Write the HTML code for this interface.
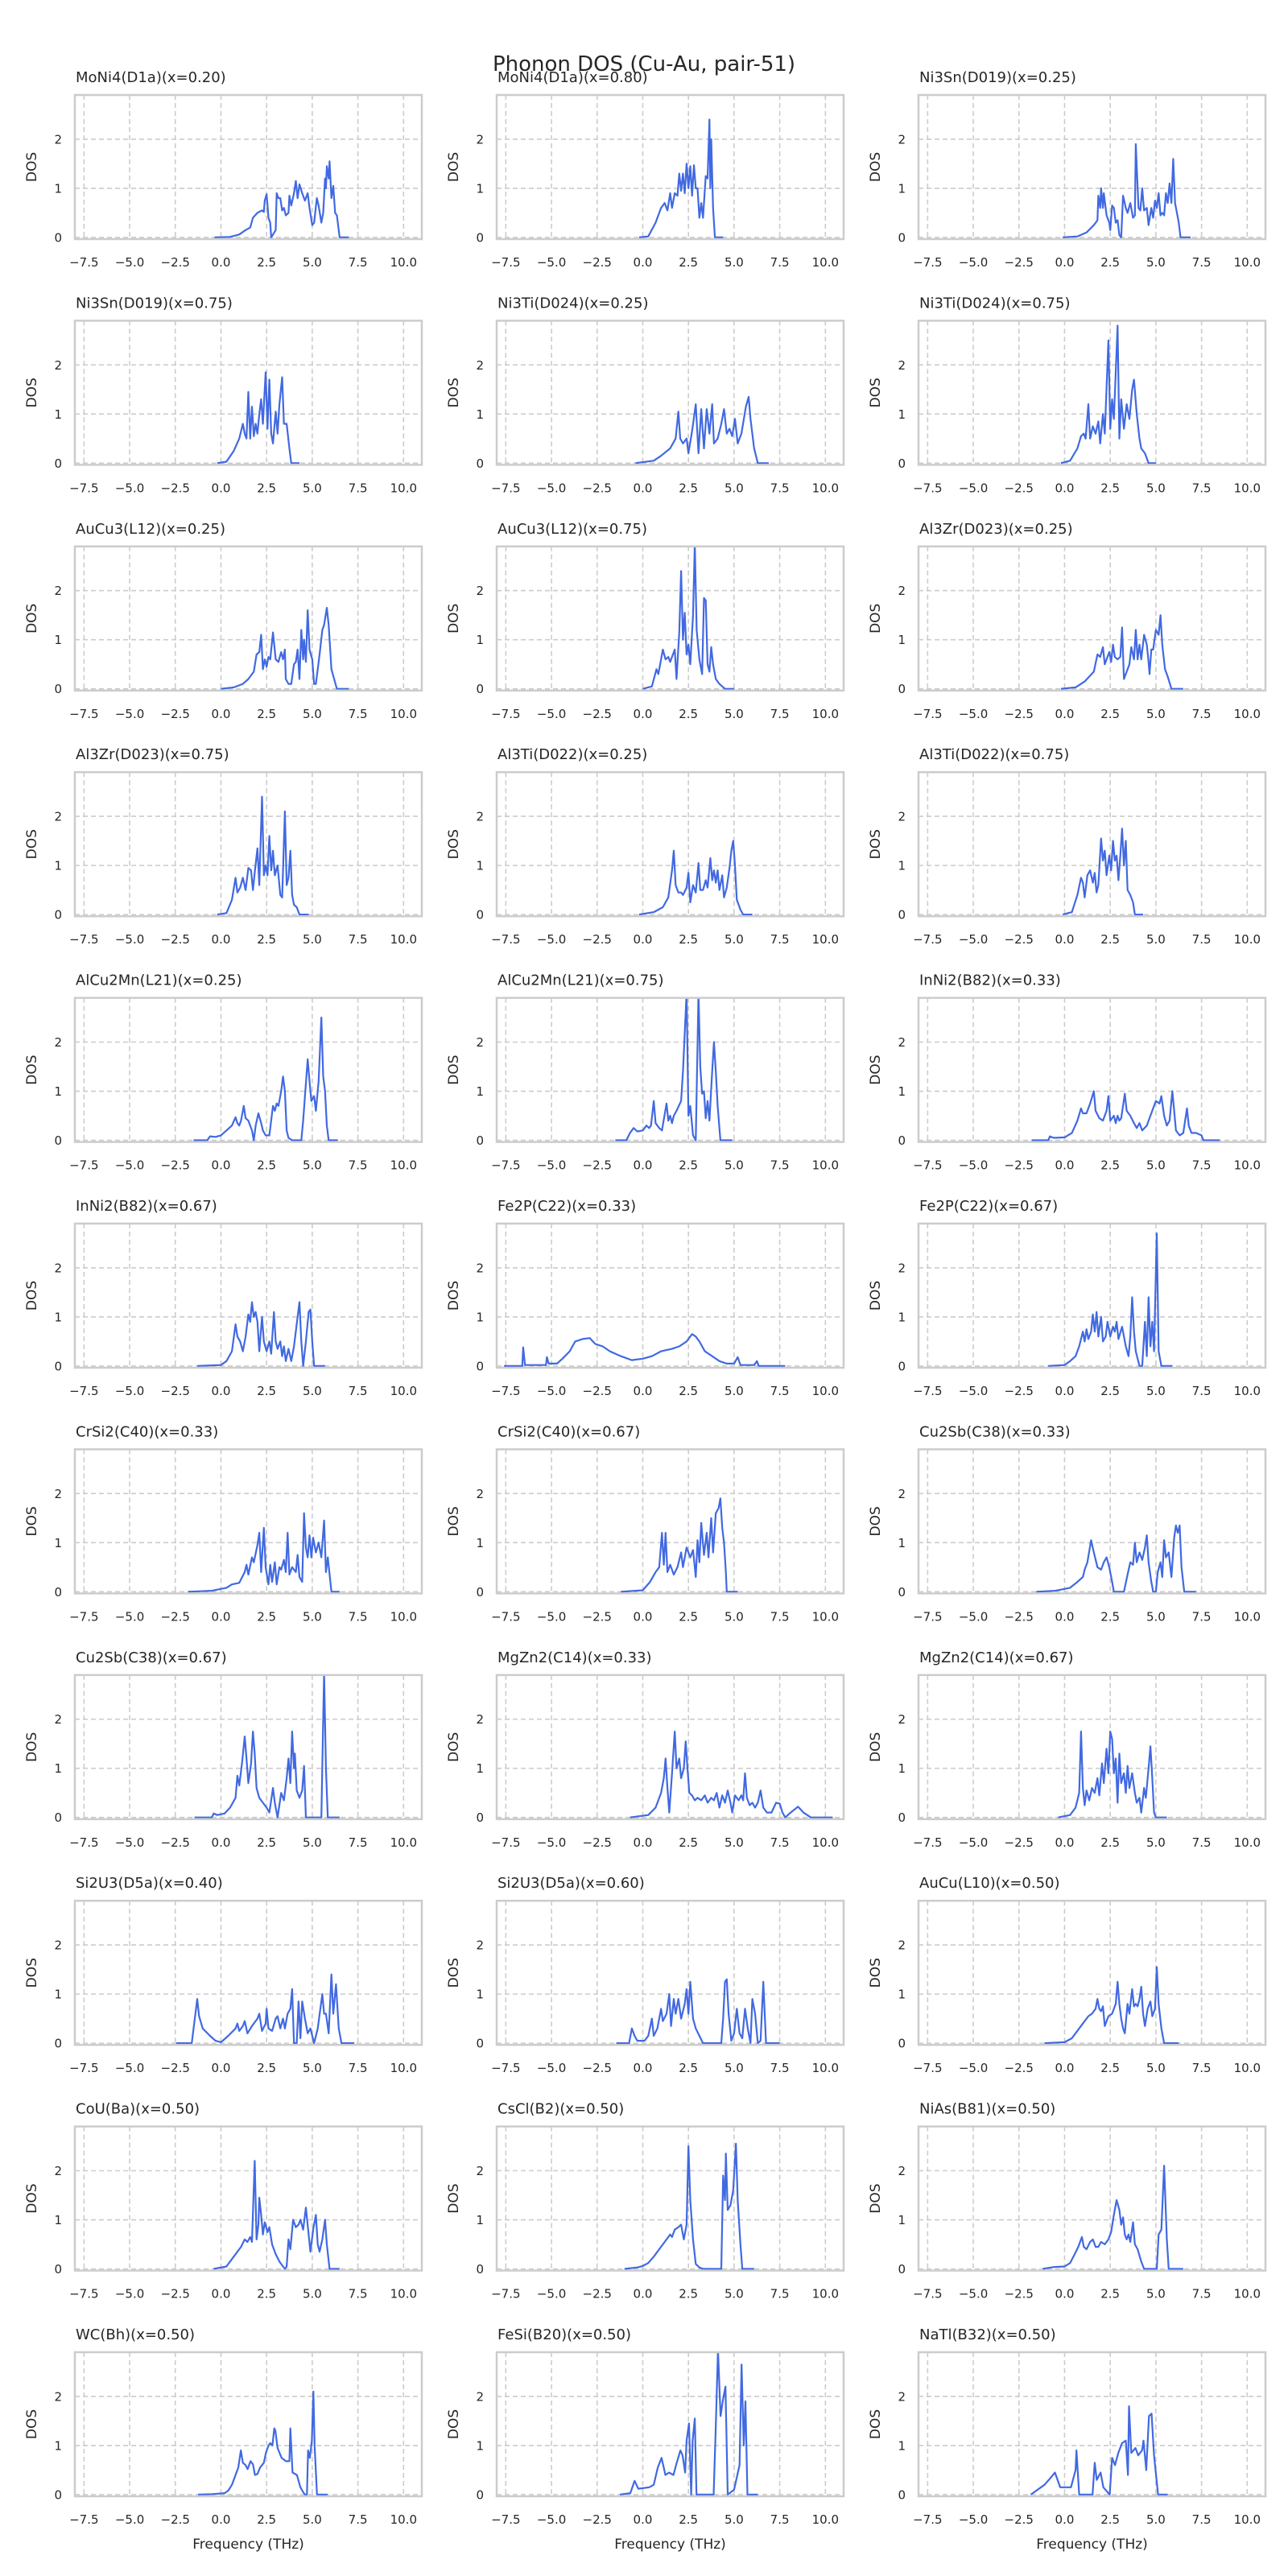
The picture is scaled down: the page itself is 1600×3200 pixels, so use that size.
<!DOCTYPE html>
<html><head><meta charset="utf-8"><style>
html,body{margin:0;padding:0;background:#fff;}
svg{display:block;font-family:"DejaVu Sans","Liberation Sans",sans-serif;}
</style></head><body>
<svg id="fig" width="1600" height="3200" viewBox="0 0 1600 3200" xmlns="http://www.w3.org/2000/svg">
<rect x="0" y="0" width="1600" height="3200" fill="#fff"/>
<text x="800" y="88" text-anchor="middle" font-size="26" fill="#262626">Phonon DOS (Cu-Au, pair-51)</text>
</svg>
<script>
const panelTitles = ["MoNi4(D1a)(x=0.20)","MoNi4(D1a)(x=0.80)","Ni3Sn(D019)(x=0.25)","Ni3Sn(D019)(x=0.75)","Ni3Ti(D024)(x=0.25)","Ni3Ti(D024)(x=0.75)","AuCu3(L12)(x=0.25)","AuCu3(L12)(x=0.75)","Al3Zr(D023)(x=0.25)","Al3Zr(D023)(x=0.75)","Al3Ti(D022)(x=0.25)","Al3Ti(D022)(x=0.75)","AlCu2Mn(L21)(x=0.25)","AlCu2Mn(L21)(x=0.75)","InNi2(B82)(x=0.33)","InNi2(B82)(x=0.67)","Fe2P(C22)(x=0.33)","Fe2P(C22)(x=0.67)","CrSi2(C40)(x=0.33)","CrSi2(C40)(x=0.67)","Cu2Sb(C38)(x=0.33)","Cu2Sb(C38)(x=0.67)","MgZn2(C14)(x=0.33)","MgZn2(C14)(x=0.67)","Si2U3(D5a)(x=0.40)","Si2U3(D5a)(x=0.60)","AuCu(L10)(x=0.50)","CoU(Ba)(x=0.50)","CsCl(B2)(x=0.50)","NiAs(B81)(x=0.50)","WC(Bh)(x=0.50)","FeSi(B20)(x=0.50)","NaTl(B32)(x=0.50)"];
const xTicks = [-7.5,-5,-2.5,0,2.5,5,7.5,10];
const xTickLabels = ["\u22127.5","\u22125.0","\u22122.5","0.0","2.5","5.0","7.5","10.0"];
const yTicks = [0,1,2];
const yTickLabels = ["0","1","2"];
const xDomain = [-8, 11];
const yDomain = [-0.034, 2.9];
// interleaved [frequency, DOS, frequency, DOS, ...] per panel
const dosSeries = [
[-0.35,0,0.5,0.01,1.0,0.06,1.35,0.15,1.6,0.2,1.75,0.4,2.0,0.5,2.25,0.55,2.35,0.52,2.4,0.75,2.5,0.88,2.6,0.4,2.7,0.3,2.75,0,3.0,0.15,3.05,0.9,3.15,0.8,3.25,0.8,3.35,0.55,3.45,0.6,3.55,0.45,3.7,0.5,3.75,0.85,3.85,0.65,4.0,0.9,4.1,1.15,4.2,0.8,4.3,1.08,4.45,0.9,4.6,0.75,4.75,0.9,4.85,0.6,5.0,0.25,5.1,0.3,5.25,0.8,5.35,0.65,5.5,0.3,5.6,0.5,5.7,1.2,5.75,1.0,5.8,1.45,5.9,1.2,5.95,1.55,6.05,0.8,6.15,1.05,6.25,0.5,6.35,0.45,6.5,0,7.0,0],
[-0.2,0,0.3,0.02,0.7,0.3,1.0,0.6,1.2,0.7,1.35,0.55,1.5,0.9,1.6,0.6,1.75,0.9,1.9,0.85,2.0,1.3,2.1,0.95,2.2,1.3,2.3,0.9,2.4,1.5,2.5,1.0,2.6,1.45,2.7,0.85,2.8,1.47,2.9,1.0,3.0,1.0,3.1,0.4,3.2,0.7,3.3,0.4,3.45,1.25,3.55,1.2,3.65,2.4,3.7,1.0,3.75,2.0,3.85,0.6,3.95,0,4.4,0],
[-0.1,0,0.7,0.02,1.2,0.1,1.6,0.25,1.8,0.35,1.85,0.85,1.95,0.6,2.0,1.0,2.1,0.6,2.15,0.9,2.3,0.45,2.45,0.3,2.5,0.15,2.6,0.65,2.7,0.6,2.8,0.3,2.9,0.35,3.0,0.05,3.1,0,3.2,0.85,3.35,0.6,3.45,0.5,3.6,0.7,3.75,0.4,3.85,0.45,3.9,1.9,4.05,0.6,4.15,0.55,4.25,1.0,4.35,0.55,4.5,0.6,4.6,0.25,4.75,0.6,4.85,0.4,4.95,0.75,5.05,0.6,5.15,0.9,5.25,0.45,5.35,0.5,5.45,0.45,5.55,0.9,5.65,0.7,5.75,1.1,5.85,0.7,5.95,1.6,6.05,0.7,6.25,0.3,6.35,0,6.9,0],
[-0.2,0,0.3,0.03,0.7,0.25,1.0,0.5,1.2,0.8,1.3,0.6,1.4,0.5,1.5,1.45,1.6,0.5,1.7,1.15,1.8,0.55,1.9,0.8,2.0,0.6,2.1,1.0,2.2,1.3,2.3,0.8,2.45,1.85,2.55,0.7,2.65,1.7,2.75,0.6,2.85,0.4,3.0,1.05,3.1,0.6,3.2,1.2,3.35,1.75,3.45,0.8,3.6,0.8,3.75,0.3,3.85,0,4.3,0],
[-0.4,0,0.6,0.05,1.0,0.15,1.5,0.3,1.8,0.5,1.95,1.05,2.05,0.5,2.2,0.4,2.4,0.5,2.5,0.2,2.7,0.65,2.9,1.2,3.05,0.2,3.2,1.1,3.35,0.3,3.5,1.1,3.65,0.6,3.8,1.2,3.9,0.4,4.1,0.5,4.3,0.8,4.45,1.1,4.6,0.6,4.75,0.7,4.9,0.55,5.05,0.9,5.2,0.4,5.4,0.6,5.65,1.15,5.8,1.35,5.9,0.9,6.1,0.3,6.3,0,6.9,0],
[-0.2,0,0.3,0.05,0.7,0.3,0.9,0.55,1.05,0.6,1.15,0.5,1.3,1.2,1.4,0.5,1.55,0.75,1.7,0.6,1.85,0.85,1.95,0.4,2.1,1.0,2.2,0.6,2.4,2.5,2.5,0.7,2.6,1.3,2.7,0.9,2.9,2.8,3.0,0.5,3.1,1.3,3.25,0.7,3.4,1.2,3.55,0.9,3.7,1.5,3.8,1.7,3.95,1.0,4.1,0.5,4.2,0.3,4.4,0.2,4.6,0,5.0,0],
[0,0,0.7,0.03,1.2,0.1,1.5,0.2,1.8,0.35,1.95,0.7,2.1,0.75,2.2,1.1,2.3,0.4,2.4,0.6,2.5,0.45,2.6,0.65,2.7,0.6,2.85,1.15,3.0,0.6,3.15,0.55,3.3,0.75,3.4,0.6,3.5,0.8,3.55,0.2,3.7,0.1,3.85,0.1,4.0,0.5,4.1,0.55,4.2,0.8,4.3,0.2,4.4,1.2,4.5,0.6,4.55,1.0,4.65,0.55,4.75,1.6,4.85,0.8,5.0,0.6,5.1,0.1,5.2,0.1,5.4,0.7,5.55,1.2,5.65,1.3,5.8,1.65,5.9,1.3,6.05,0.4,6.2,0.2,6.35,0,7.0,0],
[0,0,0.5,0.05,0.75,0.4,0.85,0.3,1.0,0.6,1.1,0.8,1.25,0.6,1.4,0.65,1.5,0.55,1.6,0.65,1.75,0.8,1.85,0.2,2.0,1.15,2.1,2.4,2.2,1.0,2.3,1.55,2.4,0.7,2.5,0.9,2.6,0.5,2.75,1.5,2.85,2.95,2.95,1.2,3.1,0.6,3.25,0.3,3.35,1.85,3.45,1.8,3.55,0.5,3.65,0.35,3.75,0.85,3.85,0.5,4.0,0.2,4.2,0.1,4.5,0,5.0,0],
[-0.2,0,0.6,0.03,1.1,0.15,1.6,0.35,1.8,0.7,1.95,0.65,2.1,0.85,2.2,0.5,2.3,0.6,2.45,0.75,2.55,0.55,2.65,0.9,2.75,0.65,2.9,0.6,3.05,0.65,3.15,1.25,3.25,0.2,3.4,0.35,3.55,0.5,3.65,0.85,3.8,0.6,3.9,1.2,4.0,0.6,4.1,0.9,4.2,0.6,4.35,1.1,4.5,0.9,4.6,0.55,4.65,0.3,4.75,0.8,4.85,0.8,5.0,1.2,5.15,1.1,5.25,1.5,5.35,0.9,5.5,0.4,5.65,0.25,5.85,0,6.5,0],
[-0.2,0,0.3,0.03,0.6,0.3,0.8,0.75,0.9,0.45,1.05,0.55,1.2,0.75,1.35,0.5,1.5,0.95,1.65,0.9,1.75,0.5,1.85,0.85,2.0,1.35,2.1,0.6,2.25,2.4,2.35,0.8,2.45,1.0,2.55,0.8,2.65,1.6,2.75,0.9,2.85,1.3,2.95,0.8,3.1,1.0,3.25,0.4,3.35,0.35,3.5,2.1,3.6,0.6,3.7,0.75,3.8,1.3,3.9,0.4,4.0,0.2,4.15,0.15,4.3,0,4.8,0],
[-0.2,0,0.6,0.05,1.1,0.15,1.4,0.35,1.6,0.9,1.7,1.3,1.8,0.6,1.95,0.45,2.1,0.45,2.2,0.4,2.4,0.55,2.5,0.85,2.6,0.25,2.75,0.6,2.9,0.45,3.05,1.05,3.15,0.5,3.3,0.5,3.45,0.7,3.55,0.55,3.7,1.15,3.8,0.7,3.9,0.9,4.0,0.65,4.1,0.9,4.2,0.5,4.35,0.8,4.45,0.35,4.6,0.55,4.75,0.95,4.85,1.3,4.95,1.5,5.05,1.0,5.15,0.3,5.35,0.1,5.5,0,6.0,0],
[-0.1,0,0.4,0.05,0.7,0.4,0.9,0.75,1.0,0.65,1.1,0.35,1.25,0.8,1.4,0.9,1.55,0.65,1.65,0.85,1.75,0.45,1.85,0.6,2.0,1.55,2.1,1.1,2.2,1.3,2.3,0.8,2.45,1.2,2.55,0.9,2.65,1.5,2.75,1.1,2.85,1.2,2.95,0.7,3.05,1.2,3.15,1.75,3.25,1.0,3.35,1.5,3.45,0.5,3.6,0.4,3.75,0.25,3.85,0,4.3,0],
[-1.5,0,-0.75,0,-0.6,0.08,-0.3,0.07,0,0.1,0.3,0.2,0.6,0.3,0.8,0.47,0.9,0.35,1.0,0.3,1.1,0.4,1.25,0.7,1.35,0.45,1.5,0.4,1.7,0.2,1.8,0,1.9,0.3,2.05,0.55,2.2,0.35,2.3,0.2,2.45,0.1,2.65,0.1,2.85,0.7,2.95,0.6,3.05,0.75,3.15,0.7,3.3,1.0,3.4,1.3,3.5,1.0,3.6,0.2,3.7,0.05,3.9,0,4.4,0,4.5,0.4,4.75,1.65,4.85,1.2,4.95,0.8,5.1,0.9,5.2,0.6,5.35,1.2,5.5,2.5,5.6,1.3,5.7,1.0,5.8,0.3,5.9,0,6.4,0],
[-1.5,0,-0.9,0,-0.7,0.15,-0.5,0.25,-0.3,0.18,0,0.2,0.2,0.3,0.35,0.25,0.45,0.3,0.6,0.8,0.7,0.35,0.9,0.25,1.05,0.2,1.3,0.75,1.4,0.4,1.5,0.5,1.6,0.35,1.7,0.5,1.85,0.6,2.1,0.8,2.2,1.4,2.4,3.0,2.5,0.5,2.6,0.7,2.75,0.1,2.9,0,3.05,3.0,3.15,1.5,3.25,0.95,3.35,1.0,3.45,0.45,3.55,0.8,3.65,0.4,3.8,1.4,3.9,2.0,4.0,1.4,4.1,0.7,4.25,0,4.9,0],
[-1.8,0,-0.9,0,-0.8,0.08,-0.6,0.05,0,0.06,0.4,0.15,0.7,0.4,0.9,0.65,1.0,0.55,1.2,0.55,1.4,0.75,1.6,1.0,1.7,0.6,1.9,0.45,2.1,0.4,2.3,0.6,2.4,0.9,2.5,0.4,2.7,0.5,2.8,0.35,2.9,0.5,3.0,0.4,3.1,0.45,3.3,0.95,3.4,0.6,3.6,0.5,3.8,0.35,3.95,0.25,4.1,0.35,4.25,0.2,4.5,0.3,4.7,0.5,4.9,0.7,5.0,0.8,5.2,0.75,5.3,0.9,5.45,0.5,5.6,0.3,5.75,0.4,5.9,1.0,6.0,0.6,6.1,0.2,6.3,0.1,6.5,0.15,6.7,0.65,6.8,0.3,6.95,0.15,7.2,0.15,7.5,0.1,7.6,0,8.5,0],
[-1.3,0,0,0.02,0.3,0.1,0.6,0.3,0.8,0.85,0.9,0.6,1.05,0.5,1.2,0.3,1.35,0.6,1.5,1.05,1.6,0.9,1.7,1.3,1.8,1.0,1.9,1.1,2.0,0.9,2.1,0.3,2.25,1.0,2.35,0.5,2.5,0.3,2.65,0.5,2.75,0.25,2.9,1.1,3.0,0.5,3.1,0.35,3.25,0.5,3.35,0.2,3.45,0.4,3.55,0.1,3.7,0.35,3.85,0.1,4.0,0.4,4.2,1.0,4.3,1.3,4.4,0.5,4.5,0,4.65,0.5,4.8,1.1,4.9,1.15,5.0,0.5,5.1,0,5.7,0],
[-7.6,0,-6.6,0,-6.55,0.38,-6.45,0.02,-5.3,0.02,-5.25,0.18,-5.15,0.05,-4.7,0.05,-4.4,0.15,-4.0,0.3,-3.7,0.5,-3.3,0.55,-2.9,0.57,-2.6,0.45,-2.2,0.4,-1.8,0.3,-1.2,0.2,-0.6,0.12,0,0.15,0.5,0.2,1.0,0.3,1.6,0.35,2.0,0.4,2.4,0.5,2.7,0.65,2.9,0.6,3.1,0.5,3.4,0.3,3.8,0.2,4.2,0.1,4.6,0.05,5.0,0.05,5.2,0.18,5.35,0.02,6.1,0.02,6.25,0.1,6.35,0,7.8,0],
[-0.9,0,0,0.02,0.3,0.1,0.6,0.2,0.8,0.4,1.0,0.7,1.1,0.5,1.2,0.75,1.3,0.55,1.45,0.7,1.55,1.05,1.65,0.7,1.75,1.1,1.85,0.6,2.0,1.0,2.1,0.5,2.25,0.6,2.35,0.9,2.5,0.6,2.65,0.8,2.75,0.7,2.85,0.9,2.95,0.55,3.15,0.8,3.25,0.6,3.35,0.4,3.5,0.2,3.6,0.6,3.7,1.4,3.8,0.7,3.9,0.3,4.1,0,4.25,0,4.4,0.9,4.5,0.2,4.6,1.4,4.7,0.4,4.8,0.9,4.9,0.3,5.05,2.7,5.15,0.3,5.3,0,5.9,0],
[-1.8,0,-0.5,0.02,0.3,0.08,0.6,0.15,1.0,0.18,1.3,0.4,1.4,0.55,1.5,0.35,1.7,0.7,1.8,0.6,2.0,0.95,2.1,1.2,2.2,0.4,2.35,1.3,2.45,0.5,2.6,0.15,2.7,0.55,2.8,0.2,2.95,0.6,3.05,0.15,3.2,0.5,3.3,0.45,3.45,0.65,3.55,0.4,3.65,1.2,3.75,0.35,3.9,0.5,4.1,0.4,4.2,0.75,4.3,0.3,4.45,0.2,4.55,1.6,4.65,0.9,4.75,0.7,4.85,1.15,4.95,0.7,5.05,1.1,5.2,0.8,5.35,1.0,5.5,0.7,5.65,1.45,5.75,0.4,5.85,0.7,6.05,0,6.5,0],
[-1.2,0,0,0.03,0.4,0.2,0.7,0.4,0.9,0.5,1.05,1.2,1.15,0.55,1.25,1.2,1.35,0.4,1.5,0.55,1.7,0.35,1.9,0.5,2.1,0.8,2.2,0.5,2.4,0.9,2.6,0.7,2.75,0.85,2.9,0.3,3.0,1.05,3.1,0.6,3.2,1.4,3.35,0.75,3.5,1.2,3.6,0.7,3.75,1.5,3.85,0.8,4.0,1.6,4.15,1.7,4.25,1.9,4.35,1.3,4.45,1.0,4.55,0.4,4.6,0,5.2,0],
[-1.55,0,-0.5,0.02,0.3,0.08,0.7,0.2,1.0,0.3,1.1,0.45,1.25,0.6,1.45,1.05,1.6,0.8,1.8,0.5,2.0,0.45,2.15,0.6,2.3,0.7,2.45,0.5,2.6,0.2,2.7,0,3.25,0,3.45,0.35,3.6,0.6,3.75,0.55,3.85,1.0,3.95,0.6,4.1,0.8,4.25,0.65,4.4,0.9,4.5,1.15,4.6,0.6,4.75,0.2,4.85,0,5.0,0,5.1,0.4,5.25,0.6,5.35,0.3,5.45,1.05,5.55,0.7,5.7,0.8,5.85,0.3,6.0,1.1,6.1,1.35,6.2,1.2,6.3,1.35,6.4,0.5,6.55,0,7.2,0],
[-1.45,0,-0.5,0,-0.4,0.08,-0.2,0.05,0.2,0.08,0.5,0.2,0.8,0.4,0.9,0.85,1.0,0.65,1.15,1.1,1.3,1.65,1.4,1.2,1.5,0.7,1.65,1.1,1.75,1.75,1.85,1.3,1.95,0.6,2.1,0.4,2.3,0.3,2.5,0.2,2.65,0.1,2.85,0.6,2.95,0.3,3.1,0,3.3,0.5,3.45,0.35,3.6,0.8,3.7,1.2,3.8,0.7,3.9,1.75,4.0,1.0,4.05,1.3,4.15,0.55,4.3,0.4,4.45,0.55,4.55,1.05,4.65,0,5.5,0,5.65,2.95,5.75,1.0,5.85,0,6.5,0],
[-0.7,0,0.3,0.05,0.7,0.2,1.0,0.5,1.15,0.8,1.25,1.2,1.35,0.6,1.45,0.1,1.6,0.9,1.75,1.75,1.85,1.0,2.0,1.2,2.1,0.8,2.25,1.0,2.35,1.55,2.45,1.0,2.55,0.5,2.7,0.45,2.85,0.35,3.0,0.4,3.2,0.35,3.4,0.45,3.55,0.3,3.75,0.4,3.9,0.35,4.05,0.5,4.2,0.2,4.35,0.45,4.5,0.3,4.65,0.55,4.8,0.3,4.9,0.1,5.05,0.45,5.25,0.35,5.4,0.45,5.5,0.35,5.6,0.9,5.7,0.4,5.85,0.25,6.0,0.3,6.15,0.2,6.3,0.3,6.45,0.55,6.6,0.2,6.8,0.1,7.05,0.1,7.3,0.3,7.5,0.28,7.65,0.1,7.8,0,8.1,0.1,8.5,0.22,8.8,0.1,9.2,0,10.4,0],
[-0.35,0,0.3,0.05,0.6,0.2,0.8,0.5,0.9,1.75,1.0,0.6,1.1,0.25,1.2,0.55,1.35,0.35,1.5,0.6,1.65,0.5,1.8,0.8,1.9,0.45,2.05,1.1,2.15,0.7,2.3,1.4,2.4,0.9,2.5,1.75,2.6,1.6,2.7,0.9,2.8,1.2,2.9,0.3,3.0,1.3,3.1,0.7,3.25,0.9,3.35,0.5,3.45,1.05,3.55,0.6,3.7,0.9,3.85,0.5,3.95,0.3,4.1,0.4,4.2,0.1,4.35,0.6,4.45,0.4,4.6,1.0,4.7,1.45,4.8,0.8,4.9,0.1,5.0,0,5.6,0],
[-2.45,0,-1.6,0,-1.3,0.9,-1.2,0.55,-1.0,0.3,-0.6,0.15,-0.3,0.05,0,0.02,0.4,0.15,0.8,0.3,0.9,0.4,1.0,0.25,1.2,0.35,1.3,0.45,1.45,0.2,1.7,0.35,2.0,0.5,2.1,0.6,2.25,0.25,2.45,0.4,2.5,0.7,2.6,0.3,2.8,0.25,3.0,0.5,3.1,0.55,3.25,0.3,3.4,0.5,3.5,0.3,3.65,0.6,3.8,0.7,3.9,1.1,4.0,0,4.15,0,4.25,0.85,4.35,0.1,4.45,0.85,4.6,0.5,4.75,0.2,4.9,0.3,5.1,0,5.3,0.3,5.55,1.0,5.65,0.6,5.75,0.6,5.9,0.2,6.05,1.4,6.15,0.6,6.3,1.2,6.45,0.3,6.6,0,7.3,0],
[-1.45,0,-0.75,0,-0.6,0.3,-0.45,0.15,-0.3,0.05,0.1,0.05,0.3,0.15,0.5,0.5,0.6,0.15,0.8,0.3,1.0,0.7,1.1,0.45,1.3,0.6,1.45,1.0,1.55,0.35,1.7,0.9,1.8,0.6,1.95,0.9,2.1,0.5,2.3,0.8,2.4,1.1,2.5,0.6,2.6,1.25,2.75,0.5,2.9,0.3,3.1,0.15,3.3,0,4.3,0,4.4,0.5,4.5,1.25,4.6,1.3,4.7,0.6,4.85,0.05,5.0,0.2,5.15,0.7,5.3,0.2,5.45,0.1,5.6,0.7,5.75,0.3,5.9,0,6.0,0.9,6.15,0.6,6.3,0,6.45,0.05,6.6,1.25,6.75,0,7.5,0],
[-1.1,0,0,0.02,0.4,0.1,0.8,0.3,1.1,0.45,1.3,0.55,1.5,0.6,1.7,0.7,1.8,0.9,1.9,0.7,2.0,0.65,2.1,0.75,2.2,0.35,2.4,0.55,2.6,0.6,2.8,0.8,2.9,1.25,3.0,0.8,3.1,0.5,3.2,0.3,3.3,0.2,3.45,0.8,3.55,0.6,3.7,1.1,3.8,0.75,3.9,0.8,4.0,0.75,4.1,0.9,4.2,1.15,4.3,0.6,4.4,0.35,4.55,0.7,4.7,0.85,4.8,0.55,4.95,0.7,5.05,1.55,5.15,0.8,5.3,0.3,5.45,0,6.25,0],
[-0.4,0,0.3,0.05,0.6,0.2,0.9,0.35,1.1,0.45,1.3,0.6,1.45,0.55,1.6,0.65,1.7,0.55,1.85,2.2,1.95,0.6,2.05,0.9,2.1,1.45,2.2,1.1,2.3,0.7,2.4,0.95,2.55,0.75,2.65,0.85,2.8,0.5,3.0,0.3,3.2,0.15,3.4,0.05,3.5,0,3.6,0.05,3.7,0.6,3.8,0.4,3.95,1.0,4.1,0.85,4.25,0.9,4.35,1.0,4.5,0.8,4.65,1.25,4.8,0.7,4.9,0.35,5.05,0.8,5.2,1.1,5.3,0.5,5.4,0.35,5.55,0.6,5.7,1.0,5.8,0.5,5.95,0,6.5,0],
[-1.0,0,-0.3,0.03,0,0.06,0.3,0.12,0.6,0.25,0.9,0.4,1.2,0.55,1.5,0.7,1.6,0.65,1.75,0.8,1.95,0.85,2.1,0.9,2.25,0.6,2.4,0.9,2.5,2.5,2.6,1.4,2.75,0.6,2.9,0.1,3.1,0.03,3.3,0,4.3,0,4.4,1.9,4.5,1.4,4.55,2.35,4.65,1.2,4.8,1.3,4.95,1.6,5.1,2.55,5.2,1.4,5.35,0.5,5.45,0,6.1,0],
[-1.2,0,-0.55,0.04,0,0.05,0.3,0.12,0.55,0.3,0.75,0.45,0.95,0.65,1.05,0.45,1.2,0.4,1.4,0.55,1.55,0.6,1.7,0.45,1.85,0.45,2.0,0.55,2.2,0.5,2.4,0.6,2.55,0.75,2.7,1.1,2.85,1.4,3.0,1.2,3.1,0.9,3.2,1.05,3.3,0.7,3.4,0.6,3.5,0.7,3.6,0.55,3.75,0.95,3.85,0.5,4.0,0.4,4.2,0.15,4.35,0,5.05,0,5.15,0.7,5.3,0.8,5.45,2.1,5.6,0.6,5.7,0,6.5,0],
[-1.25,0,-0.5,0.01,0.2,0.03,0.4,0.08,0.6,0.2,0.8,0.4,0.95,0.55,1.09,0.9,1.2,0.65,1.35,0.6,1.46,0.52,1.62,0.68,1.75,0.62,1.86,0.4,2.0,0.42,2.14,0.55,2.35,0.65,2.46,0.85,2.6,1.0,2.7,1.05,2.82,1.0,2.92,1.35,2.98,1.3,3.1,0.95,3.32,0.75,3.56,0.68,3.75,0.68,3.8,1.35,3.92,0.45,4.16,0.4,4.35,0.15,4.5,0.05,4.6,0,4.71,0,4.77,0.9,4.87,0.75,4.98,1.1,5.06,2.1,5.13,1.0,5.26,0,5.84,0],
[-1.25,0,-0.68,0.03,-0.45,0.28,-0.24,0.12,0.35,0.15,0.6,0.2,0.82,0.55,1.03,0.75,1.24,0.4,1.44,0.45,1.68,0.4,1.82,0.6,2.06,0.9,2.18,0.8,2.32,0.45,2.4,1.1,2.53,1.45,2.65,0,2.73,1.1,2.85,1.55,2.94,0,3.88,0,4.0,1.4,4.12,2.95,4.26,1.6,4.38,1.9,4.53,2.2,4.65,0,5.0,0.1,5.3,0.6,5.41,2.65,5.53,1.0,5.62,1.9,5.73,0,6.3,0],
[-1.85,0,-1.1,0.2,-0.75,0.35,-0.53,0.45,-0.24,0.15,0.35,0.15,0.6,0.5,0.65,0.9,0.8,0,1.53,0,1.65,0.65,1.76,0.3,1.97,0.45,2.12,0.15,2.47,0,2.6,0.75,2.76,0.6,2.94,0.85,3.15,1.05,3.35,1.1,3.47,0.4,3.53,1.8,3.65,0.85,3.88,0.95,4.03,0.8,4.24,0.9,4.32,1.1,4.47,0.5,4.62,1.6,4.76,1.65,4.9,0.8,5.12,0,5.65,0]
];

const NS = "http://www.w3.org/2000/svg";
const svg = document.getElementById("fig");
const axW = 431, axH = 179, colX = [93, 617, 1141], rowTop = 118, rowPitch = 280.4;
function mk(tag, attrs, parent) {
  const e = document.createElementNS(NS, tag);
  for (const k in attrs) e.setAttribute(k, attrs[k]);
  (parent || svg).appendChild(e);
  return e;
}
const defs = mk("defs", {});
panelTitles.forEach((title, i) => {
  const r = Math.floor(i / 3), c = i % 3;
  const L = colX[c], T = rowTop + rowPitch * r;
  const sx = v => L + (v - xDomain[0]) / (xDomain[1] - xDomain[0]) * axW;
  const sy = v => T + axH - (v - yDomain[0]) / (yDomain[1] - yDomain[0]) * axH;
  const g = mk("g", {});
  
  
  const cp = mk("clipPath", {id: "clip" + i}, defs);
  mk("rect", {x: L, y: T, width: axW, height: axH}, cp);
  // grid
  xTicks.forEach((t, k) => {
    const gl = mk("line", {x1: sx(t), x2: sx(t), y1: T, y2: T + axH, stroke: "#cccccc", "stroke-width": 1.6, "stroke-dasharray": "6,4"}, g);
    
    
    const tl = mk("text", {x: sx(t), y: T + axH + 34, "text-anchor": "middle", "font-size": 15, fill: "#262626"}, g);
    tl.textContent = xTickLabels[k];
    
    
  });
  yTicks.forEach((t, k) => {
    const gl = mk("line", {x1: L, x2: L + axW, y1: sy(t), y2: sy(t), stroke: "#cccccc", "stroke-width": 1.6, "stroke-dasharray": "6,4"}, g);
    
    
    const tl = mk("text", {x: L - 16, y: sy(t) + 5.5, "text-anchor": "end", "font-size": 15, fill: "#262626"}, g);
    tl.textContent = yTickLabels[k];
    
    
  });
  // series
  const pts = dosSeries[i];
  let d = "";
  for (let k = 0; k < pts.length; k += 2) {
    d += (k ? "L" : "M") + sx(pts[k]).toFixed(1) + "," + sy(pts[k + 1]).toFixed(1);
  }
  const line = mk("path", {d: d, fill: "none", stroke: "#4169e1", "stroke-width": 2.2, "stroke-linejoin": "round", "clip-path": "url(#clip" + i + ")"}, g);
  
  
  // frame
  const fr = mk("rect", {x: L, y: T, width: axW, height: axH, fill: "none", stroke: "#cccccc", "stroke-width": 2.5}, g);
  
  
  const tt = mk("text", {x: L + 1, y: T - 16, "font-size": 18, fill: "#262626"}, g);
  tt.textContent = title;
  
  
  const yl = mk("text", {x: 0, y: 0, "text-anchor": "middle", "font-size": 17, fill: "#262626", transform: "translate(" + (L - 48) + "," + (T + axH / 2) + ") rotate(-90)"}, g);
  yl.textContent = "DOS";
  
  
  if (r === 10) {
    const xl = mk("text", {x: L + axW / 2, y: T + axH + 65, "text-anchor": "middle", "font-size": 17, fill: "#262626"}, g);
    xl.textContent = "Frequency (THz)";
    
    
  }
});
</script>
</body></html>
